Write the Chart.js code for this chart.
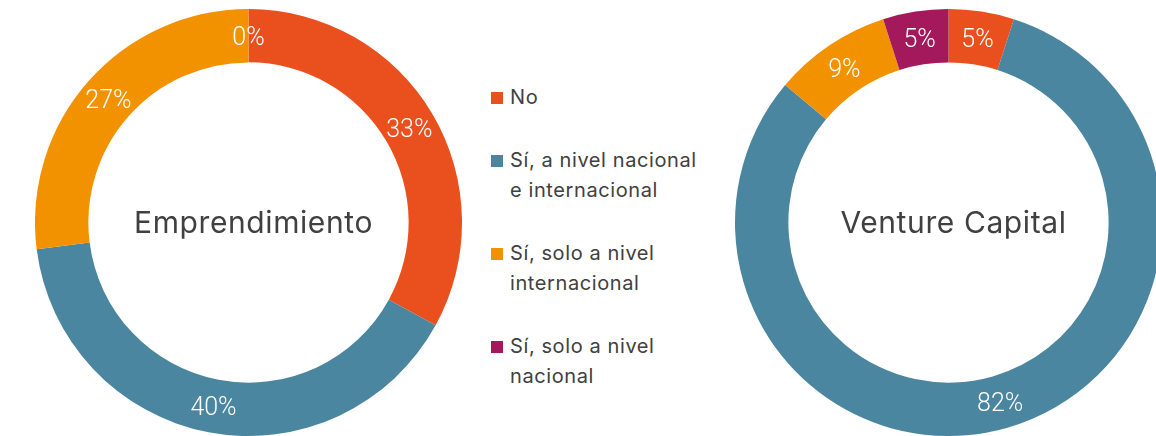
<!DOCTYPE html>
<html>
<head>
<meta charset="utf-8">
<script src="https://cdn.jsdelivr.net/npm/chart.js@4.4.1/dist/chart.umd.min.js"></script>
<style>
  html, body { margin: 0; padding: 0; background: #fff; }
  body { width: 1156px; height: 436px; overflow: hidden; position: relative; font-family: Inter, "Noto Sans", sans-serif; }
  .donut { position: absolute; top: 9px; width: 427px; height: 427px; }
  #left { left: 35px; }
  #right { left: 735px; }
  #legend { position: absolute; left: 491px; top: 82px; color: #404040; font-size: 20px; line-height: 30.5px; letter-spacing: 0.6px; }
  #legend .item { display: flex; align-items: flex-start; margin-bottom: 32px; }
  #legend .box { width: 12px; height: 12px; margin-top: 10px; margin-right: 7px; flex: none; }
</style>
</head>
<body>
<div class="donut" id="left"><canvas id="chartLeft"></canvas></div>
<div id="legend"></div>
<div class="donut" id="right"><canvas id="chartRight"></canvas></div>
<script>
const categories = ["No", "Sí, a nivel nacional e internacional", "Sí, solo a nivel internacional", "Sí, solo a nivel nacional"];
const legendLines = [["No"], ["Sí, a nivel nacional", "e internacional"], ["Sí, solo a nivel", "internacional"], ["Sí, solo a nivel", "nacional"]];
const colors = ["#E9501E", "#4A86A0", "#F39200", "#A3195B"];
// percentages shown on the rings
const emprendimiento = [33, 40, 27, 0];
const ventureCapital = [5, 82, 9, 5];
const titles = ["Emprendimiento", "Venture Capital"];

const ringLabels = {
  id: "ringLabels",
  afterDatasetsDraw(chart) {
    const ctx = chart.ctx;
    const meta = chart.getDatasetMeta(0);
    ctx.save();
    ctx.fillStyle = "#fff";
    ctx.font = "300 25px Roboto, sans-serif";
    ctx.textAlign = "center";
    ctx.textBaseline = "middle";
    meta.data.forEach((arc, i) => {
      const p = arc.tooltipPosition();
      ctx.fillText(chart.data.datasets[0].data[i] + "%", p.x, p.y + 3);
    });
    // title in the hole
    const a = meta.data[0];
    ctx.fillStyle = "#404040";
    ctx.font = "30px Inter, 'Noto Sans', sans-serif";
    ctx.letterSpacing = "0.6px";
    ctx.fillText(chart.options.plugins.centerTitle, a.x + 5, a.y + 1);
    ctx.restore();
  }
};

function makeDonut(id, values, title) {
  return new Chart(document.getElementById(id), {
    type: "doughnut",
    data: {
      labels: categories,
      datasets: [{ data: values, backgroundColor: colors, borderWidth: 0 }]
    },
    options: {
      responsive: true,
      maintainAspectRatio: false,
      animation: false,
      cutout: "75%",
      layout: { padding: 0 },
      plugins: {
        legend: { display: false },
        tooltip: { enabled: false },
        centerTitle: title
      }
    },
    plugins: [ringLabels]
  });
}

makeDonut("chartLeft", emprendimiento, titles[0]);
makeDonut("chartRight", ventureCapital, titles[1]);

const legend = document.getElementById("legend");
categories.forEach((c, i) => {
  const item = document.createElement("div");
  item.className = "item";
  item.innerHTML = '<span class="box" style="background:' + colors[i] + '"></span><span>' + legendLines[i].join("<br>") + "</span>";
  legend.appendChild(item);
});
</script>
</body>
</html>
